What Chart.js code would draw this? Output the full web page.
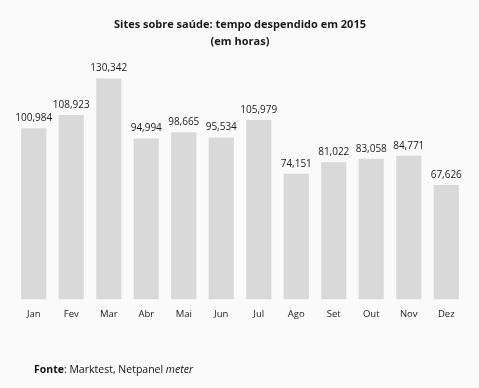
<!DOCTYPE html>
<html>
<head>
<meta charset="utf-8">
<script src="https://cdn.jsdelivr.net/npm/chart.js@4/dist/chart.umd.min.js"></script>
<style>
  html, body { margin: 0; padding: 0; background: #fafafa; }
  #wrap { position: relative; width: 479px; height: 388px; }
  #footer { position: absolute; left: 34px; top: 362px; font-family: "Open Sans", sans-serif; font-size: 10.5px; color: #111; }
</style>
</head>
<body>
<div id="wrap">
  <canvas id="c" width="479" height="388"></canvas>
  <div id="footer"><b>Fonte</b>: Marktest, Netpanel <i>meter</i></div>
</div>
<script>
const titleLines = ["Sites sobre saúde: tempo despendido em 2015", "(em horas)"];
const months = ["Jan", "Fev", "Mar", "Abr", "Mai", "Jun", "Jul", "Ago", "Set", "Out", "Nov", "Dez"];
const hours = [100984, 108923, 130342, 94994, 98665, 95534, 105979, 74151, 81022, 83058, 84771, 67626];

const valueLabels = {
  id: 'valueLabels',
  afterDatasetsDraw(chart) {
    const ctx = chart.ctx;
    const meta = chart.getDatasetMeta(0);
    ctx.save();
    ctx.font = '10px "Open Sans", sans-serif';
    ctx.fillStyle = '#1a1a1a';
    ctx.textAlign = 'center';
    ctx.textBaseline = 'bottom';
    meta.data.forEach((bar, i) => {
      const v = chart.data.datasets[0].data[i];
      ctx.fillText(v.toLocaleString('en-US'), bar.x, bar.y - 5);
    });
    ctx.restore();
  }
};

new Chart(document.getElementById('c'), {
  type: 'bar',
  data: {
    labels: months,
    datasets: [{
      data: hours,
      backgroundColor: '#d9d9d9',
      categoryPercentage: 0.67,
      barPercentage: 1.0
    }]
  },
  options: {
    responsive: false,
    animation: false,
    layout: { padding: { left: 15, right: 14, top: 6, bottom: 59 } },
    plugins: {
      legend: { display: false },
      tooltip: { enabled: false },
      title: {
        display: true,
        text: titleLines,
        font: { family: '"Open Sans", sans-serif', size: 11, weight: 'bold', lineHeight: 1.5 },
        color: '#1a1a1a',
        padding: { top: 11, bottom: 20 }
      }
    },
    scales: {
      x: {
        grid: { display: false, drawTicks: false },
        border: { display: false },
        ticks: { color: '#222', font: { family: '"Open Sans", sans-serif', size: 9.5 }, padding: 9 }
      },
      y: {
        display: false,
        min: 0,
        max: 135400
      }
    }
  },
  plugins: [valueLabels]
});
</script>
</body>
</html>
